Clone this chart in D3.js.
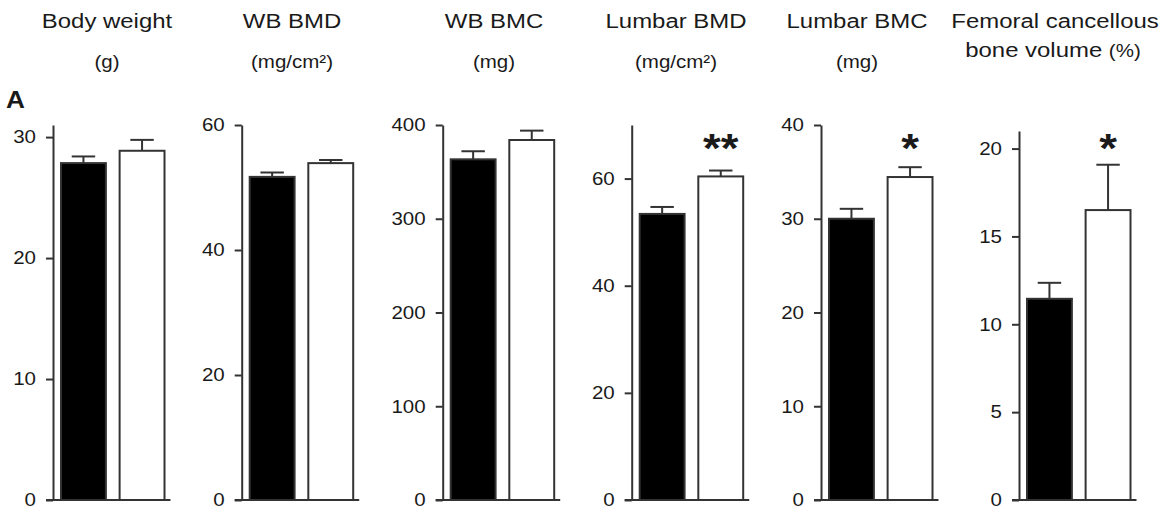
<!DOCTYPE html>
<meta charset="utf-8">
<style>
body { margin: 0; background: #fff; }
svg { display: block; }
text { font-family: "Liberation Sans", Arial, sans-serif; fill: #1a1a1a; }
.axis path, .axis line { stroke: #333; stroke-width: 2px; }
</style>
<body>
<div id="chart"></div>
<script src="https://cdn.jsdelivr.net/npm/d3@7"></script>
<script>
// values
var titles = [["Body weight"], ["WB BMD"], ["WB BMC"], ["Lumbar BMD"], ["Lumbar BMC"], ["Femoral cancellous", "bone volume "]];
var units = ["(g)", "(mg/cm\u00B2)", "(mg)", "(mg/cm\u00B2)", "(mg)", "(%)"];
var groups = ["filled", "open"];
var meanFilled = [27.85, 51.7, 363.4, 53.4, 30.0, 11.45];
var errFilled = [0.55, 0.7, 8.6, 1.3, 1.06, 0.91];
var meanOpen = [28.87, 53.9, 384, 60.4, 34.45, 16.5];
var errOpen = [0.9, 0.5, 10, 1.1, 1.05, 2.58];
var yMax = [31, 60, 400, 70, 40, 21];
var yTicks = [[0, 10, 20, 30], [0, 20, 40, 60], [0, 100, 200, 300, 400], [0, 20, 40, 60], [0, 10, 20, 30, 40], [0, 5, 10, 15, 20]];
var signif = ["", "", "", "**", "*", "*"];

// layout
var width = 1171, height = 516;
var axisX = [53, 241.7, 442.7, 631.7, 821, 1019];
var titleX = [107, 292, 494, 676, 857, 1055];
var yTop = [125, 125, 125, 125, 125, 131];
var yBottom = 500;
var sx = 1.14; // the figure is a bit stretched sideways

var svg = d3.select("#chart").append("svg")
    .attr("width", width)
    .attr("height", height);

function stretch(sel, x, y) {
  sel.attr("transform", "translate(" + x + "," + y + ") scale(" + sx + ",1)");
}

svg.append("text")
    .style("font-weight", "bold")
    .style("font-size", "23px")
    .text("A")
    .call(stretch, 6, 108);

titles.forEach(function(lines, i) {
  svg.append("text")
      .attr("text-anchor", "middle")
      .style("font-size", "21px")
      .text(lines[0])
      .call(stretch, titleX[i], 28);
  if (lines.length > 1) {
    var t2 = svg.append("text")
        .attr("text-anchor", "middle")
        .style("font-size", "21px")
        .call(stretch, titleX[i] - 2, 57);
    t2.append("tspan").text(lines[1]);
    t2.append("tspan").style("font-size", "18px").text(units[i]);
  } else {
    svg.append("text")
        .attr("text-anchor", "middle")
        .style("font-size", "18px")
        .text(units[i])
        .call(stretch, titleX[i], 68);
  }
});

titles.forEach(function(t, i) {
  var g = svg.append("g");
  var y = d3.scaleLinear().domain([0, yMax[i]]).range([yBottom, yTop[i]]);
  var x = d3.scaleBand().domain(groups)
      .range([axisX[i] + 7, axisX[i] + 112.5])
      .paddingInner(0.2);
  var bw = x.bandwidth();

  var rows = [
    {g: "filled", m: meanFilled[i], e: errFilled[i], fill: "#000"},
    {g: "open", m: meanOpen[i], e: errOpen[i], fill: "#fff"}
  ];

  // error bars (upper only)
  rows.forEach(function(d) {
    var cx = x(d.g) + bw / 2;
    g.append("line")
        .attr("x1", cx).attr("x2", cx)
        .attr("y1", y(d.m)).attr("y2", y(d.m + d.e))
        .attr("stroke", "#333").attr("stroke-width", 2);
    g.append("line")
        .attr("x1", cx - bw / 4).attr("x2", cx + bw / 4)
        .attr("y1", y(d.m + d.e)).attr("y2", y(d.m + d.e))
        .attr("stroke", "#333").attr("stroke-width", 2);
  });

  g.selectAll("rect")
      .data(rows)
    .enter().append("rect")
      .attr("x", function(d) { return x(d.g) + 1; })
      .attr("y", function(d) { return y(d.m); })
      .attr("width", bw - 2)
      .attr("height", function(d) { return yBottom - y(d.m); })
      .attr("fill", function(d) { return d.fill; })
      .attr("stroke", "#333")
      .attr("stroke-width", 2);

  var ax = g.append("g")
      .attr("class", "axis")
      .attr("transform", "translate(" + axisX[i] + ",0)")
      .call(d3.axisLeft(y).tickValues(yTicks[i]).tickSize(7).tickSizeOuter(0).tickPadding(10));
  ax.select(".domain").attr("fill", "none");
  ax.selectAll(".tick text")
      .style("font-size", "18px")
      .style("font-family", "'Liberation Sans', Arial, sans-serif")
      .attr("fill", "#1a1a1a")
      .each(function() {
        var el = d3.select(this);
        var tx = +el.attr("x");
        el.attr("x", 0).call(stretch, tx, 0);
      });

  // baseline
  g.append("line")
      .attr("x1", axisX[i] - 7).attr("x2", x("open") + bw + 5)
      .attr("y1", yBottom).attr("y2", yBottom)
      .attr("stroke", "#333").attr("stroke-width", 2);

  if (signif[i]) {
    g.append("text")
        .attr("text-anchor", "middle")
        .style("font-size", "40px")
        .style("font-weight", "bold")
        .text(signif[i])
        .call(stretch, x("open") + bw / 2, 162);
  }
});
</script>
</body>
